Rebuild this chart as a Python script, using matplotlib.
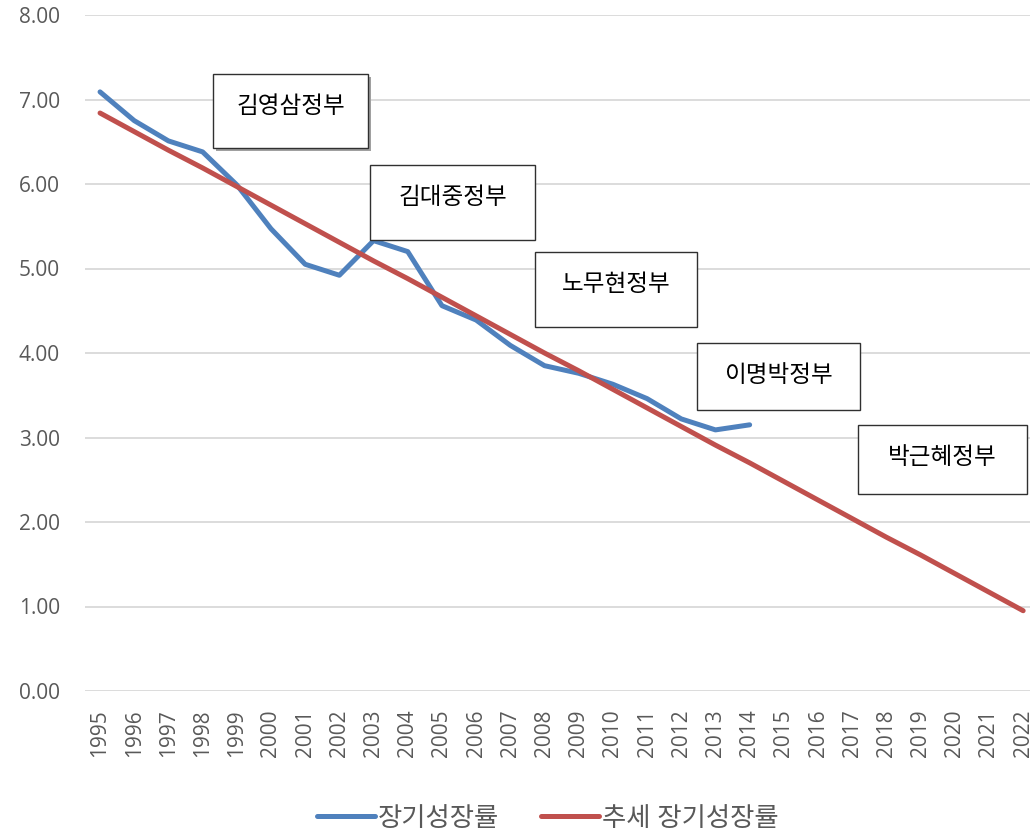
import matplotlib.pyplot as plt
from matplotlib.patches import Rectangle

plt.rcParams['font.family'] = ['Open Sans', 'Noto Sans CJK KR', 'DejaVu Sans']

years = list(range(1995, 2023))
growth_years = list(range(1995, 2015))
growth = [7.09, 6.75, 6.51, 6.38, 5.99, 5.47, 5.05, 4.92, 5.33, 5.20,
          4.56, 4.39, 4.09, 3.85, 3.76, 3.63, 3.46, 3.22, 3.09, 3.15]
trend = [6.84, 6.62, 6.40, 6.19, 5.97, 5.75, 5.53, 5.31, 5.09, 4.88,
         4.66, 4.44, 4.22, 4.00, 3.79, 3.57, 3.35, 3.13, 2.91, 2.70,
         2.48, 2.26, 2.04, 1.82, 1.61, 1.39, 1.17, 0.95]
govs = ['김영삼정부', '김대중정부', '노무현정부', '이명박정부', '박근혜정부']
# box positions in figure pixels: left, top, right, bottom
gov_boxes = [(213, 74, 368, 148), (370, 165, 535, 240), (535, 252, 697, 327),
             (697, 343, 860, 410), (858, 425, 1027, 494)]

W, H = 1030, 835
fig = plt.figure(figsize=(W / 100, H / 100), dpi=100)
ax = fig.add_axes([85 / W, 1 - 691 / H, 945 / W, 676 / H])

ax.plot(growth_years, growth, color='#4F81BD', lw=3.6, label='장기성장률',
        solid_capstyle='round', solid_joinstyle='round')
ax.plot(years, trend, color='#C0504D', lw=3.6, label='추세 장기성장률',
        solid_capstyle='round')

ax.set_ylim(0, 8)
ax.set_xlim(1994.56, 2022.2)
ax.set_yticks(range(0, 9))
ax.set_yticklabels([f'{v:.2f}' for v in range(0, 9)])
ax.set_xticks(years)
ax.set_xticklabels([str(y) for y in years], rotation=90)
ax.tick_params(axis='both', length=0, labelsize=15, colors='#595959')
ax.tick_params(axis='x', pad=13)
ax.tick_params(axis='y', pad=18)
ax.grid(axis='y', color='#D9D9D9', lw=1.3)
ax.set_axisbelow(True)
for s in ax.spines.values():
    s.set_visible(False)

for name, (l, t, r, b) in zip(govs, gov_boxes):
    if name == govs[0]:
        fig.add_artist(Rectangle(((l + 3) / W, 1 - (b + 3) / H), (r - l) / W, (b - t) / H,
                                 transform=fig.transFigure, facecolor='#A0A0A0',
                                 edgecolor='none', zorder=9))
    fig.add_artist(Rectangle((l / W, 1 - b / H), (r - l) / W, (b - t) / H,
                             transform=fig.transFigure, facecolor='white',
                             edgecolor='#303030', lw=1.0, zorder=10))
    fig.text((l + r) / 2 / W, 1 - (t + 33) / H, name, ha='center', va='center',
             fontsize=17, color='black', zorder=11)

fig.legend(loc='center', bbox_to_anchor=(0.532, 1 - 819 / H), ncol=2, frameon=False,
           fontsize=19, labelcolor='#595959', handlelength=2.2, columnspacing=1.6,
           handletextpad=0.1)

fig.savefig('out.png', dpi=100)
